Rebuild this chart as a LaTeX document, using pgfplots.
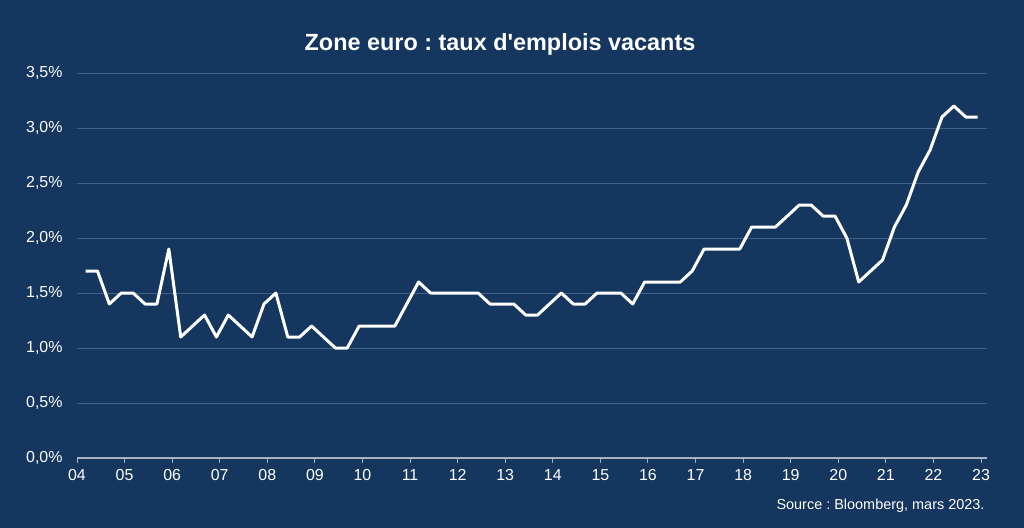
\documentclass[border=0pt]{standalone}
\usepackage{pgfplots}
\pgfplotsset{compat=1.18}
\usepackage{fontspec}
\setmainfont{Liberation Sans}
\frenchspacing
\definecolor{bg}{RGB}{20,54,95}
\definecolor{gridc}{RGB}{66,96,132}
\definecolor{axc}{RGB}{170,180,192}
\begin{document}
\begin{tikzpicture}
\fill[bg] (0bp,0bp) rectangle (1024bp,528bp);
\useasboundingbox (0bp,0bp) rectangle (1024bp,528bp);
\node[text=white,font=\bfseries\fontsize{23.5}{26}\selectfont] at (500bp,484bp) {\frenchspacing Zone euro : taux d\textquotesingle emplois vacants};
\node[text=white,anchor=east,font=\fontsize{14.5}{16}\selectfont] at (988bp,22bp) {\frenchspacing Source : Bloomberg, mars 2023.};
\begin{axis}[
  at={(77bp,70bp)}, anchor=south west,
  scale only axis, width=910bp, height=385bp,
  xmin=2004, xmax=2023.126, ymin=0, ymax=3.5,
  axis x line*=bottom, axis y line*=left,
  y axis line style={draw=none},
  x axis line style={axc, line width=1.5bp},
  ymajorgrids, grid style={gridc, line width=1bp},
  xtick={2004,2005,2006,2007,2008,2009,2010,2011,2012,2013,2014,2015,2016,2017,2018,2019,2020,2021,2022,2023},
  xticklabels={04,05,06,07,08,09,10,11,12,13,14,15,16,17,18,19,20,21,22,23},
  ytick={0,0.5,1,1.5,2,2.5,3,3.5},
  yticklabels={{0,0\%},{0,5\%},{1,0\%},{1,5\%},{2,0\%},{2,5\%},{3,0\%},{3,5\%}},
  tick label style={white, font=\fontsize{16}{18}\selectfont},
  xtick style={axc, line width=1bp}, ytick style={draw=none},
  tick align=outside, major tick length=5bp,
  yticklabel style={xshift=-6bp},
  xticklabel style={yshift=-3bp},
  clip=false,
]
\addplot[white, line width=3bp, line join=round] table {
x y
2004.18 1.7
2004.43 1.7
2004.68 1.4
2004.93 1.5
2005.18 1.5
2005.43 1.4
2005.68 1.4
2005.93 1.9
2006.18 1.1
2006.43 1.2
2006.68 1.3
2006.93 1.1
2007.18 1.3
2007.43 1.2
2007.68 1.1
2007.93 1.4
2008.18 1.5
2008.43 1.1
2008.68 1.1
2008.93 1.2
2009.18 1.1
2009.43 1.0
2009.68 1.0
2009.93 1.2
2010.18 1.2
2010.43 1.2
2010.68 1.2
2010.93 1.4
2011.18 1.6
2011.43 1.5
2011.68 1.5
2011.93 1.5
2012.18 1.5
2012.43 1.5
2012.68 1.4
2012.93 1.4
2013.18 1.4
2013.43 1.3
2013.68 1.3
2013.93 1.4
2014.18 1.5
2014.43 1.4
2014.68 1.4
2014.93 1.5
2015.18 1.5
2015.43 1.5
2015.68 1.4
2015.93 1.6
2016.18 1.6
2016.43 1.6
2016.68 1.6
2016.93 1.7
2017.18 1.9
2017.43 1.9
2017.68 1.9
2017.93 1.9
2018.18 2.1
2018.43 2.1
2018.68 2.1
2018.93 2.2
2019.18 2.3
2019.43 2.3
2019.68 2.2
2019.93 2.2
2020.18 2.0
2020.43 1.6
2020.68 1.7
2020.93 1.8
2021.18 2.1
2021.43 2.3
2021.68 2.6
2021.93 2.8
2022.18 3.1
2022.43 3.2
2022.68 3.1
2022.93 3.1
};
\end{axis}
\end{tikzpicture}
\end{document}
